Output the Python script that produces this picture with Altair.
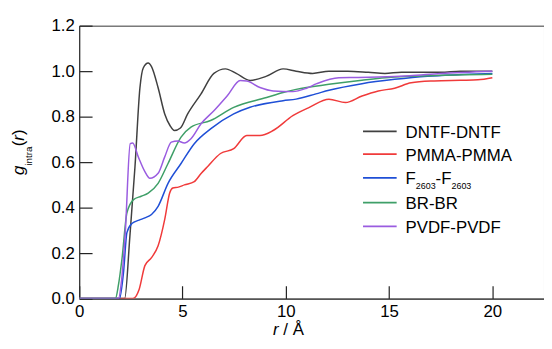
import altair as alt
import pandas as pd

FONT = "Liberation Sans"

# ---- data ----
series_names = ["DNTF-DNTF", "PMMA-PMMA", "F2603-F2603", "BR-BR", "PVDF-PVDF"]
series_colors = ["#404040", "#f03a3a", "#1f4fd6", "#3f9f68", "#9a5ce0"]

dntf_r = [0, 2.2, 2.45, 2.7, 2.94, 3.1, 3.34, 3.5, 3.82, 4.14, 4.4, 4.61, 4.9, 5.25, 5.89,
          6.52, 7.08, 7.6, 8.27, 9.07, 9.87, 10.5, 11.3, 12.09, 13.0, 14.0, 14.8, 15.6, 16.5,
          17.5, 18.46, 19.3, 20.0]
dntf_g = [0, 0, 0.27, 0.58, 0.927, 1.014, 1.036, 1.02, 0.927, 0.812, 0.76, 0.739, 0.75, 0.812,
          0.899, 0.99, 1.01, 0.99, 0.959, 0.978, 1.01, 1.0, 0.99, 1.0, 1.0, 0.995, 0.99, 0.995,
          0.995, 0.995, 1.0, 1.0, 1.0]

pmma_r = [0, 2.6, 2.9, 3.18, 3.5, 3.82, 4.14, 4.38, 4.53, 4.8, 5.09, 5.57, 5.9, 6.21, 6.84,
          7.48, 8.11, 8.75, 9.39, 10.34, 11.14, 12.09, 12.89, 13.69, 14.48, 15.27, 16.07,
          17.18, 18.46, 19.3, 20.0]
pmma_g = [0, 0, 0.04, 0.145, 0.18, 0.232, 0.348, 0.464, 0.486, 0.49, 0.5, 0.514, 0.55, 0.58,
          0.638, 0.659, 0.717, 0.717, 0.739, 0.804, 0.841, 0.877, 0.862, 0.891, 0.913, 0.925,
          0.949, 0.957, 0.96, 0.962, 0.971]

f2603_r = [0, 1.95, 2.15, 2.31, 2.55, 2.9, 3.18, 3.5, 3.82, 4.3, 4.93, 5.57, 6.36, 7.48, 8.27,
           9.87, 10.5, 11.46, 12.09, 13.69, 15.27, 16.86, 18.5, 20.0]
f2603_g = [0, 0, 0.12, 0.29, 0.33, 0.345, 0.355, 0.37, 0.406, 0.507, 0.594, 0.681, 0.746,
           0.812, 0.841, 0.87, 0.877, 0.9, 0.916, 0.945, 0.964, 0.978, 0.985, 0.99]

br_r = [0, 1.75, 1.9, 2.07, 2.31, 2.63, 3.0, 3.34, 3.82, 4.3, 4.93, 5.41, 6.36, 7.48, 9.07,
        9.87, 10.5, 12.09, 13.69, 15.27, 17.0, 20.0]
br_g = [0, 0, 0.06, 0.174, 0.377, 0.435, 0.45, 0.464, 0.507, 0.594, 0.71, 0.754, 0.783, 0.841,
        0.884, 0.906, 0.92, 0.942, 0.96, 0.974, 0.98, 0.986]

pvdf_r = [0, 1.9, 2.05, 2.23, 2.47, 2.59, 2.86, 3.18, 3.42, 3.82, 4.14, 4.46, 4.77, 5.09, 5.41,
          5.89, 6.52, 7.16, 7.8, 8.11, 8.75, 9.39, 10.34, 11.0, 11.5, 12.57, 13.5, 14.5, 16.0,
          17.5, 20.0]
pvdf_g = [0, 0, 0.08, 0.29, 0.681, 0.684, 0.623, 0.558, 0.529, 0.551, 0.623, 0.688, 0.693,
          0.684, 0.703, 0.768, 0.826, 0.891, 0.959, 0.957, 0.928, 0.913, 0.91, 0.925, 0.945,
          0.971, 0.972, 0.974, 0.98, 0.99, 1.0]

x_ticks = [0, 5, 10, 15, 20]
y_ticks = [0.0, 0.2, 0.4, 0.6, 0.8, 1.0, 1.2]

all_r = [dntf_r, pmma_r, f2603_r, br_r, pvdf_r]
all_g = [dntf_g, pmma_g, f2603_g, br_g, pvdf_g]

rows = []
for name, rs, gs in zip(series_names, all_r, all_g):
    for i, (r, g) in enumerate(zip(rs, gs)):
        rows.append({"series": name, "r": r, "g": g, "order": i})
df = pd.DataFrame(rows)

xscale = alt.Scale(domain=[0, 22.5], nice=False, zero=False)
yscale = alt.Scale(domain=[0, 1.2], nice=False)

# inward ticks: negative tick size passed to Vega through an expression
inward = {"expr": "-13"}

lines = alt.Chart(df).mark_line(strokeWidth=1.5, clip=True, interpolate="monotone").encode(
    x=alt.X("r:Q", scale=xscale,
            axis=alt.Axis(values=x_ticks, title=None, labelFlush=False, ticks=True,
                          tickSize=inward, labelPadding=18)),
    y=alt.Y("g:Q", scale=yscale,
            axis=alt.Axis(values=y_ticks, title=None, format=".1f", labelFlush=False,
                          ticks=True, tickSize=inward, labelPadding=18)),
    color=alt.Color("series:N", scale=alt.Scale(domain=series_names, range=series_colors),
                    legend=None),
    order="order:Q",
    detail="series:N",
)


def txt(s, x, y, size=17, style="normal", angle=0, align="left", color="black"):
    kw = dict(font=FONT, fontSize=size, fontStyle=style, align=align,
              baseline="alphabetic", color=color)
    if angle:
        kw["angle"] = angle
    return alt.Chart(pd.DataFrame({"s": [s]})).mark_text(**kw).encode(
        text="s:N", x=alt.value(x), y=alt.value(y))


extra = []
# y-axis title: g_intra(r)
extra += [
    txt("g", -56, 151, size=17, style="italic", angle=270),
    txt("intra", -48, 141.5, size=10, angle=270),
    txt("(", -56, 122, size=17, angle=270),
    txt("r", -56, 116.3, size=17, style="italic", angle=270),
    txt(")", -56, 110.6, size=17, angle=270),
]
# x-axis title: r / Å
extra += [
    txt("r", 196, 313, size=17, style="italic"),
    txt("/ Å", 206.4, 313, size=17),
]

# legend
leg_y = [107, 130, 154, 179, 203]
for name, col, yy in zip(series_names, series_colors, leg_y):
    extra.append(
        alt.Chart(pd.DataFrame({"s": [name]})).mark_rule(color=col, strokeWidth=1.8).encode(
            x=alt.value(287), x2=alt.value(321), y=alt.value(yy))
    )
    if name == "F2603-F2603":
        extra += [
            txt("F", 330, yy + 6.5),
            txt("2603", 340.4, yy + 11, size=9),
            txt("-F", 360.4, yy + 6.5),
            txt("2603", 376.5, yy + 11, size=9),
        ]
    else:
        extra.append(txt(name, 330, yy + 6.5))

chart = alt.layer(lines, *extra).properties(
    width=470, height=276,
    autosize="none",
    padding={"left": 72, "top": 16, "right": 0, "bottom": 41},
).configure_view(
    stroke="#333", strokeWidth=1
).configure_axis(
    grid=False, domainColor="#333", domainWidth=1, tickColor="#222", tickWidth=1.2,
    labelFont=FONT, labelFontSize=17, labelColor="black",
)

chart.save("out.html", embed_options={"renderer": "svg", "actions": False})
